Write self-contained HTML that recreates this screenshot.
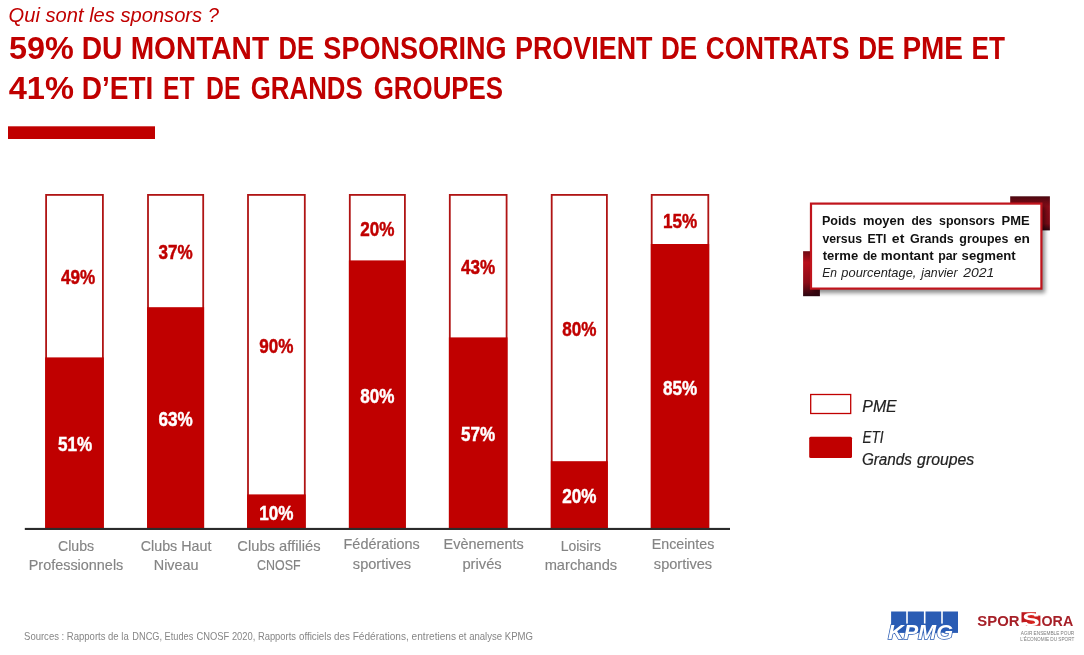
<!DOCTYPE html>
<html lang="fr"><head><meta charset="utf-8"><title>Qui sont les sponsors ?</title>
<style>
html,body{margin:0;padding:0;background:#fff;}
body{width:1084px;height:655px;overflow:hidden;font-family:"Liberation Sans",sans-serif;}
svg{display:block;}
text{font-family:"Liberation Sans",sans-serif;}
.pct{font-weight:bold;font-size:19.6px;text-anchor:middle;}
</style></head><body>
<svg width="1084" height="655" viewBox="0 0 1084 655">
<defs>
<linearGradient id="gL" x1="0" y1="0" x2="0" y2="1"><stop offset="0" stop-color="#6e0a14"/><stop offset="0.25" stop-color="#b80f1c"/><stop offset="0.7" stop-color="#8a0c18"/><stop offset="1" stop-color="#2a0610"/></linearGradient>
<linearGradient id="gR" x1="0" y1="0" x2="0" y2="1"><stop offset="0" stop-color="#4a0810"/><stop offset="0.3" stop-color="#8a0c18"/><stop offset="0.8" stop-color="#7a0a16"/><stop offset="1" stop-color="#2a0610"/></linearGradient>
<linearGradient id="gS" x1="0" y1="0" x2="1" y2="0"><stop offset="0" stop-color="#b8161e"/><stop offset="0.6" stop-color="#d8241e"/><stop offset="1" stop-color="#c01a1e"/></linearGradient>
<filter id="sh" x="-10%" y="-10%" width="125%" height="130%"><feGaussianBlur stdDeviation="2.2"/></filter>
</defs>

<rect x="8" y="126.3" width="147" height="12.7" fill="#c00000"/>
<rect x="46.1" y="194.9" width="56.8" height="333.7" fill="#fff" stroke="#b01414" stroke-width="1.8"/>
<rect x="45.2" y="357.4" width="58.6" height="171.2" fill="#c00000"/>
<text class="pct" x="78.2" y="283.8" fill="#c00000" stroke="#c00000" stroke-width="0.45" textLength="34.2" lengthAdjust="spacingAndGlyphs">49%</text>
<text class="pct" x="75.1" y="451.2" fill="#fff" stroke="#fff" stroke-width="0.45" textLength="34.2" lengthAdjust="spacingAndGlyphs">51%</text>
<rect x="148.0" y="194.9" width="55.2" height="333.7" fill="#fff" stroke="#b01414" stroke-width="1.8"/>
<rect x="147.1" y="307.2" width="57.0" height="221.4" fill="#c00000"/>
<text class="pct" x="175.6" y="258.6" fill="#c00000" stroke="#c00000" stroke-width="0.45" textLength="34.2" lengthAdjust="spacingAndGlyphs">37%</text>
<text class="pct" x="175.6" y="426.1" fill="#fff" stroke="#fff" stroke-width="0.45" textLength="34.2" lengthAdjust="spacingAndGlyphs">63%</text>
<rect x="248.0" y="194.9" width="56.8" height="333.7" fill="#fff" stroke="#b01414" stroke-width="1.8"/>
<rect x="247.1" y="494.4" width="58.6" height="34.2" fill="#c00000"/>
<text class="pct" x="276.4" y="352.8" fill="#c00000" stroke="#c00000" stroke-width="0.45" textLength="34.2" lengthAdjust="spacingAndGlyphs">90%</text>
<text class="pct" x="276.4" y="519.6" fill="#fff" stroke="#fff" stroke-width="0.45" textLength="34.2" lengthAdjust="spacingAndGlyphs">10%</text>
<rect x="349.8" y="194.9" width="55.1" height="333.7" fill="#fff" stroke="#b01414" stroke-width="1.8"/>
<rect x="348.9" y="260.4" width="56.9" height="268.2" fill="#c00000"/>
<text class="pct" x="377.4" y="236.1" fill="#c00000" stroke="#c00000" stroke-width="0.45" textLength="34.2" lengthAdjust="spacingAndGlyphs">20%</text>
<text class="pct" x="377.4" y="402.7" fill="#fff" stroke="#fff" stroke-width="0.45" textLength="34.2" lengthAdjust="spacingAndGlyphs">80%</text>
<rect x="449.8" y="194.9" width="56.8" height="333.7" fill="#fff" stroke="#b01414" stroke-width="1.8"/>
<rect x="448.9" y="337.4" width="58.6" height="191.2" fill="#c00000"/>
<text class="pct" x="478.2" y="273.8" fill="#c00000" stroke="#c00000" stroke-width="0.45" textLength="34.2" lengthAdjust="spacingAndGlyphs">43%</text>
<text class="pct" x="478.2" y="441.2" fill="#fff" stroke="#fff" stroke-width="0.45" textLength="34.2" lengthAdjust="spacingAndGlyphs">57%</text>
<rect x="551.7" y="194.9" width="55.2" height="333.7" fill="#fff" stroke="#b01414" stroke-width="1.8"/>
<rect x="550.8" y="461.2" width="57.0" height="67.4" fill="#c00000"/>
<text class="pct" x="579.3" y="335.7" fill="#c00000" stroke="#c00000" stroke-width="0.45" textLength="34.2" lengthAdjust="spacingAndGlyphs">80%</text>
<text class="pct" x="579.3" y="503.1" fill="#fff" stroke="#fff" stroke-width="0.45" textLength="34.2" lengthAdjust="spacingAndGlyphs">20%</text>
<rect x="651.7" y="194.9" width="56.6" height="333.7" fill="#fff" stroke="#b01414" stroke-width="1.8"/>
<rect x="650.8" y="244.0" width="58.4" height="284.6" fill="#c00000"/>
<text class="pct" x="680.0" y="227.8" fill="#c00000" stroke="#c00000" stroke-width="0.45" textLength="34.2" lengthAdjust="spacingAndGlyphs">15%</text>
<text class="pct" x="680.0" y="394.5" fill="#fff" stroke="#fff" stroke-width="0.45" textLength="34.2" lengthAdjust="spacingAndGlyphs">85%</text>
<rect x="24.8" y="527.9" width="705.2" height="2.1" fill="#2b2b2b"/>
<rect x="1010.2" y="196.3" width="39.7" height="34.1" fill="url(#gR)"/>
<rect x="803.1" y="251.2" width="16.8" height="45" fill="url(#gL)"/>
<rect x="813" y="206" width="232" height="87" fill="#000" opacity="0.45" filter="url(#sh)"/>
<rect x="811" y="203.6" width="230.4" height="85" fill="#fff" stroke="#c0141c" stroke-width="2.2"/>
<rect x="810.7" y="394.5" width="40" height="19" fill="#fff" stroke="#c00000" stroke-width="1.3"/>
<rect x="809.2" y="436.7" width="42.8" height="21.4" rx="1.5" fill="#c00000"/>
<text x="8.62" y="21.6" font-style="italic" font-size="19.5" fill="#c00000" textLength="210.32" lengthAdjust="spacingAndGlyphs">Qui sont les sponsors ?</text>
<text y="58.7" font-weight="bold" font-size="30.5" fill="#c00000"><tspan x="9.02" textLength="64.79" lengthAdjust="spacingAndGlyphs">59%</tspan> <tspan x="81.64" textLength="40.65" lengthAdjust="spacingAndGlyphs">DU</tspan> <tspan x="130.66" textLength="138.44" lengthAdjust="spacingAndGlyphs">MONTANT</tspan> <tspan x="278.60" textLength="35.54" lengthAdjust="spacingAndGlyphs">DE</tspan> <tspan x="323.35" textLength="183.26" lengthAdjust="spacingAndGlyphs">SPONSORING</tspan> <tspan x="515.02" textLength="137.48" lengthAdjust="spacingAndGlyphs">PROVIENT</tspan> <tspan x="660.98" textLength="36.20" lengthAdjust="spacingAndGlyphs">DE</tspan> <tspan x="705.73" textLength="143.71" lengthAdjust="spacingAndGlyphs">CONTRATS</tspan> <tspan x="858.25" textLength="36.25" lengthAdjust="spacingAndGlyphs">DE</tspan> <tspan x="902.44" textLength="60.54" lengthAdjust="spacingAndGlyphs">PME</tspan> <tspan x="971.45" textLength="33.46" lengthAdjust="spacingAndGlyphs">ET</tspan></text>
<text y="98.6" font-weight="bold" font-size="30.5" fill="#c00000"><tspan x="8.72" textLength="65.27" lengthAdjust="spacingAndGlyphs">41%</tspan> <tspan x="81.68" textLength="71.62" lengthAdjust="spacingAndGlyphs">D’ETI</tspan> <tspan x="163.11" textLength="31.48" lengthAdjust="spacingAndGlyphs">ET</tspan> <tspan x="206.10" textLength="34.39" lengthAdjust="spacingAndGlyphs">DE</tspan> <tspan x="250.75" textLength="111.89" lengthAdjust="spacingAndGlyphs">GRANDS</tspan> <tspan x="373.74" textLength="129.32" lengthAdjust="spacingAndGlyphs">GROUPES</tspan></text>
<text x="58.03" y="550.5" font-size="14.2" stroke="#848484" stroke-width="0.15" fill="#848484" textLength="36.15" lengthAdjust="spacingAndGlyphs">Clubs</text>
<text x="28.76" y="570.2" font-size="14.2" stroke="#848484" stroke-width="0.15" fill="#848484" textLength="94.54" lengthAdjust="spacingAndGlyphs">Professionnels</text>
<text x="140.73" y="550.5" font-size="14.2" stroke="#848484" stroke-width="0.15" fill="#848484" textLength="70.66" lengthAdjust="spacingAndGlyphs">Clubs Haut</text>
<text x="153.76" y="570.2" font-size="14.2" stroke="#848484" stroke-width="0.15" fill="#848484" textLength="44.82" lengthAdjust="spacingAndGlyphs">Niveau</text>
<text x="237.32" y="550.5" font-size="14.2" stroke="#848484" stroke-width="0.15" fill="#848484" textLength="83.18" lengthAdjust="spacingAndGlyphs">Clubs affiliés</text>
<text x="257.02" y="570.2" font-size="14.2" stroke="#848484" stroke-width="0.15" fill="#848484" textLength="43.55" lengthAdjust="spacingAndGlyphs">CNOSF</text>
<text x="343.54" y="548.9" font-size="14.2" stroke="#848484" stroke-width="0.15" fill="#848484" textLength="76.27" lengthAdjust="spacingAndGlyphs">Fédérations</text>
<text x="352.85" y="568.7" font-size="14.2" stroke="#848484" stroke-width="0.15" fill="#848484" textLength="58.32" lengthAdjust="spacingAndGlyphs">sportives</text>
<text x="443.56" y="548.9" font-size="14.2" stroke="#848484" stroke-width="0.15" fill="#848484" textLength="80.21" lengthAdjust="spacingAndGlyphs">Evènements</text>
<text x="462.44" y="568.7" font-size="14.2" stroke="#848484" stroke-width="0.15" fill="#848484" textLength="39.26" lengthAdjust="spacingAndGlyphs">privés</text>
<text x="560.71" y="550.5" font-size="14.2" stroke="#848484" stroke-width="0.15" fill="#848484" textLength="40.37" lengthAdjust="spacingAndGlyphs">Loisirs</text>
<text x="544.66" y="570.2" font-size="14.2" stroke="#848484" stroke-width="0.15" fill="#848484" textLength="72.47" lengthAdjust="spacingAndGlyphs">marchands</text>
<text x="651.77" y="548.9" font-size="14.2" stroke="#848484" stroke-width="0.15" fill="#848484" textLength="62.49" lengthAdjust="spacingAndGlyphs">Enceintes</text>
<text x="653.86" y="568.7" font-size="14.2" stroke="#848484" stroke-width="0.15" fill="#848484" textLength="58.31" lengthAdjust="spacingAndGlyphs">sportives</text>
<text y="224.6" font-weight="bold" font-size="12.7" fill="#111"><tspan x="821.99" textLength="34.25" lengthAdjust="spacingAndGlyphs">Poids</tspan> <tspan x="862.94" textLength="41.59" lengthAdjust="spacingAndGlyphs">moyen</tspan> <tspan x="911.45" textLength="20.62" lengthAdjust="spacingAndGlyphs">des</tspan> <tspan x="939.11" textLength="55.66" lengthAdjust="spacingAndGlyphs">sponsors</tspan> <tspan x="1001.50" textLength="28.09" lengthAdjust="spacingAndGlyphs">PME</tspan></text>
<text y="242.6" font-weight="bold" font-size="12.7" fill="#111"><tspan x="822.50" textLength="39.47" lengthAdjust="spacingAndGlyphs">versus</tspan> <tspan x="867.43" textLength="18.98" lengthAdjust="spacingAndGlyphs">ETI</tspan> <tspan x="891.86" textLength="12.46" lengthAdjust="spacingAndGlyphs">et</tspan> <tspan x="910.06" textLength="43.68" lengthAdjust="spacingAndGlyphs">Grands</tspan> <tspan x="959.35" textLength="48.99" lengthAdjust="spacingAndGlyphs">groupes</tspan> <tspan x="1013.94" textLength="16.00" lengthAdjust="spacingAndGlyphs">en</tspan></text>
<text y="259.6" font-weight="bold" font-size="12.7" fill="#111"><tspan x="822.66" textLength="35.54" lengthAdjust="spacingAndGlyphs">terme</tspan> <tspan x="862.90" textLength="14.22" lengthAdjust="spacingAndGlyphs">de</tspan> <tspan x="880.81" textLength="52.97" lengthAdjust="spacingAndGlyphs">montant</tspan> <tspan x="938.20" textLength="19.24" lengthAdjust="spacingAndGlyphs">par</tspan> <tspan x="961.62" textLength="54.06" lengthAdjust="spacingAndGlyphs">segment</tspan></text>
<text y="277.4" font-style="italic" font-size="12.7" fill="#222"><tspan x="822.33" textLength="14.74" lengthAdjust="spacingAndGlyphs">En</tspan> <tspan x="841.37" textLength="75.01" lengthAdjust="spacingAndGlyphs">pourcentage,</tspan> <tspan x="921.24" textLength="36.24" lengthAdjust="spacingAndGlyphs">janvier</tspan> <tspan x="963.22" textLength="31.07" lengthAdjust="spacingAndGlyphs">2021</tspan></text>
<text x="862.30" y="411.8" font-style="italic" font-size="16.9" stroke="#222" stroke-width="0.2" fill="#222" textLength="34.38" lengthAdjust="spacingAndGlyphs">PME</text>
<text x="862.48" y="442.9" font-style="italic" font-size="16" stroke="#222" stroke-width="0.2" fill="#222" textLength="21.05" lengthAdjust="spacingAndGlyphs">ETI</text>
<text y="465.2" font-style="italic" font-size="16" stroke="#222" stroke-width="0.2" fill="#222"><tspan x="861.88" textLength="50.09" lengthAdjust="spacingAndGlyphs">Grands</tspan> <tspan x="917.09" textLength="57.18" lengthAdjust="spacingAndGlyphs">groupes</tspan></text>
<text y="625.8" font-weight="bold" font-size="15" fill="#a62028"><tspan x="977.34" textLength="42.12" lengthAdjust="spacingAndGlyphs">SPOR</tspan> <tspan x="1041.54" textLength="31.64" lengthAdjust="spacingAndGlyphs">ORA</tspan></text>
<text x="1020.79" y="634.7" font-size="5.2" fill="#7a7a7a" textLength="53.45" lengthAdjust="spacingAndGlyphs">AGIR ENSEMBLE POUR</text>
<text x="1020.28" y="640.5" font-size="5.2" fill="#7a7a7a" textLength="54.10" lengthAdjust="spacingAndGlyphs">L’ÉCONOMIE DU SPORT</text>
<text y="640.4" font-size="10.2" fill="#868686"><tspan x="24.04" textLength="104.68" lengthAdjust="spacingAndGlyphs">Sources : Rapports de la</tspan> <tspan x="132.37" textLength="60.91" lengthAdjust="spacingAndGlyphs">DNCG, Etudes</tspan> <tspan x="196.52" textLength="99.43" lengthAdjust="spacingAndGlyphs">CNOSF 2020, Rapports</tspan> <tspan x="298.96" textLength="50.84" lengthAdjust="spacingAndGlyphs">officiels des</tspan> <tspan x="352.70" textLength="103.28" lengthAdjust="spacingAndGlyphs">Fédérations, entretiens</tspan> <tspan x="458.53" textLength="74.47" lengthAdjust="spacingAndGlyphs">et analyse KPMG</tspan></text>
<g id="kpmg">
<rect x="891.1" y="611.5" width="15.1" height="21.2" fill="#2a5cb4"/>
<rect x="907.8" y="611.5" width="16.1" height="21.2" fill="#2a5cb4"/>
<rect x="925.5" y="611.5" width="15.7" height="21.2" fill="#2a5cb4"/>
<rect x="942.8" y="611.5" width="15.2" height="21.2" fill="#2a5cb4"/>
<rect x="891.1" y="623.6" width="66.9" height="9.1" fill="#2a5cb4"/>
<text x="888" y="638.9" font-size="21" font-weight="bold" font-style="italic" fill="#fff" stroke="#2a5cb4" stroke-width="1.5" paint-order="stroke" textLength="65" lengthAdjust="spacingAndGlyphs">KPMG</text>
</g>
<g id="spor">
<rect x="1021.5" y="612.2" width="18.9" height="13.6" fill="url(#gS)"/>
<rect x="1036" y="611.4" width="5.2" height="4.2" fill="#fff"/>
<rect x="1020.7" y="622.4" width="5.2" height="4.2" fill="#fff"/>
<text x="1022.2" y="625.9" font-size="19" font-weight="bold" fill="#fff" textLength="17.6" lengthAdjust="spacingAndGlyphs">S</text>
</g>
</svg></body></html>
